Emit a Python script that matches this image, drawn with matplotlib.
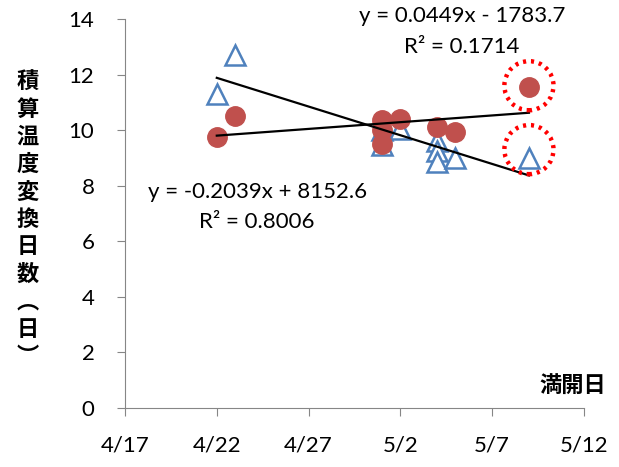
import numpy as np
import pandas as pd
import matplotlib
matplotlib.use("Agg")
import matplotlib.pyplot as plt

plt.rcParams['font.family'] = ['Lato', 'DejaVu Sans']

# triangles (blue, open)
tri_dates = ['2009-04-22', '2009-04-23', '2009-05-01', '2009-05-01', '2009-05-02',
             '2009-05-04', '2009-05-04', '2009-05-04', '2009-05-05', '2009-05-09']
tri_vals = [11.3, 12.7, 10.0, 9.45, 10.05, 9.6, 9.25, 8.85, 9.0, 9.0]

# circles (red, filled)
cir_dates = ['2009-04-22', '2009-04-23', '2009-05-01', '2009-05-01', '2009-05-01',
             '2009-05-02', '2009-05-04', '2009-05-05', '2009-05-09']
cir_vals = [9.75, 10.5, 10.35, 10.0, 9.5, 10.4, 10.1, 9.95, 11.55]

# highlighted points (dotted red rings)
ring_dates = ['2009-05-09', '2009-05-09']
ring_vals = [11.6, 9.3]

tick_dates = ['2009-04-17', '2009-04-22', '2009-04-27', '2009-05-02', '2009-05-07', '2009-05-12']
y_ticks = [0, 2, 4, 6, 8, 10, 12, 14]

base = pd.Timestamp('2009-04-17')

def days(d):
    return np.array([(pd.Timestamp(x) - base).days for x in d], dtype=float)

tx, cx, rx, kx = days(tri_dates), days(cir_dates), days(ring_dates), days(tick_dates)
ty, cy = np.array(tri_vals), np.array(cir_vals)

fig = plt.figure(figsize=(6.19, 4.67), dpi=100)
ax = fig.add_axes([0.2019, 0.1263, 0.7416, 0.833])

ax.plot(tx, ty, linestyle='none', marker='^', markersize=14, markerfacecolor='white',
        markeredgecolor='#4F81BD', markeredgewidth=1.8, zorder=2)
ax.plot(cx, cy, linestyle='none', marker='o', markersize=14, markerfacecolor='#C0504D',
        markeredgecolor='#C0504D', zorder=3)

# linear trend lines
for x, y in [(tx, ty), (cx, cy)]:
    k, b = np.polyfit(x, y, 1)
    xs = np.array([x.min(), x.max()])
    ax.plot(xs, k * xs + b, color='black', lw=1.6, zorder=4)

ax.scatter(rx, np.array(ring_vals), s=1250, facecolors='none', edgecolors='#FF0000',
           linewidths=3.2, linestyles=(0, (0.7, 1.1)), zorder=5, clip_on=False)

ax.set_xlim(kx[0], kx[-1])
ax.set_ylim(0, 14)
ax.set_xticks(kx)
ax.set_xticklabels([f"{pd.Timestamp(d).month}/{pd.Timestamp(d).day}" for d in tick_dates])
ax.set_yticks(y_ticks)

for s in ['top', 'right']:
    ax.spines[s].set_visible(False)
for s in ['left', 'bottom']:
    ax.spines[s].set_color('#868686')
ax.tick_params(axis='both', colors='#868686', length=6, labelsize=16, labelcolor='black')
ax.tick_params(axis='x', pad=14)
ax.tick_params(axis='y', pad=16)

ax.text(0.734, 1.008, 'y = 0.0449x - 1783.7', transform=ax.transAxes, ha='center', va='center', fontsize=16)
ax.text(0.734, 0.928, 'R² = 0.1714', transform=ax.transAxes, ha='center', va='center', fontsize=16)
ax.text(0.288, 0.555, 'y = -0.2039x + 8152.6', transform=ax.transAxes, ha='center', va='center', fontsize=16)
ax.text(0.288, 0.478, 'R² = 0.8006', transform=ax.transAxes, ha='center', va='center', fontsize=16)

cjk = ['Noto Sans CJK JP', 'DejaVu Sans']
ax.text(0.976, 0.059, '満開日', transform=ax.transAxes, ha='center', va='center',
        fontsize=16, fontweight='bold', family=cjk)
fig.text(0.045, 0.53, '\n'.join('積算温度変換日数︵日︶'), ha='center', va='center',
         fontsize=16, fontweight='bold', family=cjk, linespacing=1.25)

fig.savefig('out.png', dpi=100)
